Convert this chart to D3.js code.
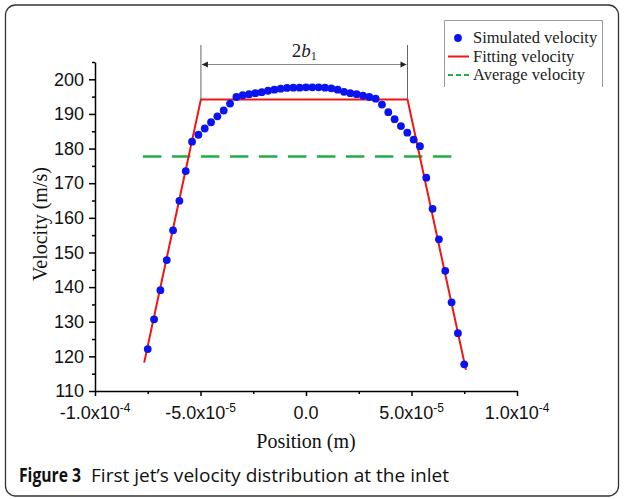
<!DOCTYPE html>
<html>
<head>
<meta charset="utf-8">
<script src="https://cdn.jsdelivr.net/npm/d3@7"></script>
<style>
  body { margin: 0; background: #fff; }
  svg { display: block; }
</style>
</head>
<body>
<div id="chart"></div>
<script>
// simulated velocity, positions in micrometres (plotted in metres)
var simPosUm = [-75, -72, -69, -66, -63, -60, -57, -54, -51, -48, -45, -42, -39, -36, -33, -30, -27,
  -24, -21, -18, -15, -12, -9, -6, -3, 0, 3, 6, 9, 12, 15, 18, 21, 24, 27, 30, 33, 36, 39, 42,
  45, 48, 51, 54, 57, 60, 63, 66, 69, 72, 75];
var simVel = [122.1, 130.7, 139.1, 147.8, 156.4, 164.9, 173.5, 182.0, 184.0, 185.8, 187.6, 189.3,
  191.0, 193.0, 194.9, 195.4, 195.7, 196.0, 196.3, 196.7, 197.0, 197.3, 197.5, 197.6, 197.6, 197.7,
  197.7, 197.7, 197.6, 197.4, 197.0, 196.4, 196.0, 195.7, 195.3, 194.9, 194.4, 192.7, 190.5, 188.5,
  186.5, 184.6, 182.6, 180.7, 171.6, 162.6, 153.8, 144.7, 135.6, 126.7, 117.7];

// fitting velocity (trapezoid)
var fitPosUm = [-76.7, -49.8, 48.1, 75.8];
var fitVel = [118.2, 194.2, 194.2, 116.1];

// average velocity
var avgPosUm = [-77.3, 69.6];
var avgVel = 177.7;

var xMajor = [-1e-4, -5e-5, 0, 5e-5, 1e-4];
var xMajorLabels = [["-1.0x10", "-4"], ["-5.0x10", "-5"], ["0.0", ""], ["5.0x10", "-5"], ["1.0x10", "-4"]];
var xMinor = [-7.5e-5, -2.5e-5, 2.5e-5, 7.5e-5];
var yMajor = [110, 120, 130, 140, 150, 160, 170, 180, 190, 200];
var yMinor = [115, 125, 135, 145, 155, 165, 175, 185, 195, 205];

var legendLabels = ["Simulated velocity", "Fitting velocity", "Average velocity"];

var W = 624, H = 499;
var BLUE = "#0a14f0", RED = "#f01414", GREEN = "#22ad4a";
var SANS = "'Liberation Sans', Arial, sans-serif";
var SERIF = "'Liberation Serif', 'Times New Roman', serif";

var svg = d3.select("#chart").append("svg").attr("width", W).attr("height", H);

// outer frame
svg.append("rect")
  .attr("x", 5.5).attr("y", 5).attr("width", 613).attr("height", 491)
  .attr("rx", 10).attr("ry", 10)
  .attr("fill", "none").attr("stroke", "#333").attr("stroke-width", 1.3);

var x = d3.scaleLinear().domain([-1e-4, 1e-4]).range([95, 517]);
var y = d3.scaleLinear().domain([110, 205]).range([391, 62]);
var um = function (v) { return v * 1e-6; };

// x axis
var xAxis = svg.append("g").attr("transform", "translate(0," + y(110) + ")");
xAxis.call(d3.axisBottom(x).tickValues(xMajor).tickSize(5).tickSizeOuter(0).tickFormat(""));
xAxis.append("g").call(d3.axisBottom(x).tickValues(xMinor).tickSize(3).tickFormat(""))
  .select(".domain").remove();
xAxis.selectAll("path, line").attr("stroke", "#000").attr("stroke-width", 1.5);

xAxis.selectAll(".xlab").data(xMajor).enter().append("text")
  .attr("class", "xlab")
  .attr("x", function (d) { return x(d); })
  .attr("y", 28)
  .attr("text-anchor", "middle")
  .attr("font-family", SANS).attr("font-size", 18).attr("fill", "#111")
  .each(function (d, i) {
    var t = d3.select(this);
    t.append("tspan").text(xMajorLabels[i][0]);
    if (xMajorLabels[i][1]) {
      t.append("tspan").attr("dy", -7).attr("font-size", 12).text(xMajorLabels[i][1]);
    }
  });

// y axis
var yAxis = svg.append("g").attr("transform", "translate(" + x(-1e-4) + ",0)");
yAxis.call(d3.axisLeft(y).tickValues(yMajor).tickSize(6).tickSizeOuter(0).tickPadding(5));
yAxis.append("g").call(d3.axisLeft(y).tickValues(yMinor).tickSize(3).tickFormat(""))
  .select(".domain").remove();
yAxis.selectAll("path, line").attr("stroke", "#000").attr("stroke-width", 1.5);
yAxis.selectAll("text").attr("font-family", SANS).attr("font-size", 18).attr("fill", "#111");

// axis titles
svg.append("text")
  .attr("x", 306).attr("y", 448)
  .attr("text-anchor", "middle")
  .attr("font-family", SERIF).attr("font-size", 20).attr("fill", "#111")
  .text("Position (m)");
svg.append("text")
  .attr("transform", "translate(47,224) rotate(-90)")
  .attr("text-anchor", "middle")
  .attr("font-family", SERIF).attr("font-size", 20).attr("fill", "#111")
  .text("Velocity (m/s)");

// average velocity (dashed green)
svg.append("line")
  .attr("x1", x(um(avgPosUm[0]))).attr("x2", x(um(avgPosUm[1])))
  .attr("y1", y(avgVel)).attr("y2", y(avgVel))
  .attr("stroke", GREEN).attr("stroke-width", 2.5)
  .attr("stroke-dasharray", "18.5,10.5");

// fitting velocity
var line = d3.line()
  .x(function (d) { return x(um(d[0])); })
  .y(function (d) { return y(d[1]); });
svg.append("path")
  .datum(d3.zip(fitPosUm, fitVel))
  .attr("d", line)
  .attr("fill", "none").attr("stroke", RED).attr("stroke-width", 2);

// 2b1 annotation
var annTop = 45, annArrowY = 64.5;
var xl = x(um(fitPosUm[1])), xr = x(um(fitPosUm[2]));
var ann = svg.append("g").attr("stroke", "#666").attr("stroke-width", 1);
ann.append("line").attr("x1", xl).attr("x2", xl).attr("y1", annTop).attr("y2", y(fitVel[1]));
ann.append("line").attr("x1", xr).attr("x2", xr).attr("y1", annTop).attr("y2", y(fitVel[2]));
ann.append("line").attr("x1", xl + 1).attr("x2", xr - 1).attr("y1", annArrowY).attr("y2", annArrowY)
  .attr("stroke", "#888");
svg.append("path")
  .attr("d", "M" + (xl + 1) + "," + annArrowY + "l6,-3v6z M" + (xr - 1) + "," + annArrowY + "l-6,-3v6z")
  .attr("fill", "#222");
var lab = svg.append("text")
  .attr("x", (xl + xr) / 2).attr("y", 57)
  .attr("text-anchor", "middle")
  .attr("font-family", SERIF).attr("font-size", 19).attr("fill", "#222");
lab.append("tspan").text("2");
lab.append("tspan").attr("font-style", "italic").text("b");
lab.append("tspan").attr("font-size", 12).attr("dy", 3).text("1");

// simulated velocity dots
svg.append("g").selectAll("circle")
  .data(d3.zip(simPosUm, simVel))
  .enter().append("circle")
  .attr("cx", function (d) { return x(um(d[0])); })
  .attr("cy", function (d) { return y(d[1]); })
  .attr("r", 3.9)
  .attr("fill", BLUE);

// legend
var lg = svg.append("g");
lg.append("path")
  .attr("d", "M444.5,87V20.5H602.5V87")
  .attr("fill", "none").attr("stroke", "#999").attr("stroke-width", 1);
var rowsY = [38, 56.5, 75];
lg.append("circle").attr("cx", 458).attr("cy", rowsY[0]).attr("r", 3.9).attr("fill", BLUE);
lg.append("line").attr("x1", 448).attr("x2", 469).attr("y1", rowsY[1]).attr("y2", rowsY[1])
  .attr("stroke", RED).attr("stroke-width", 2);
lg.append("line").attr("x1", 448).attr("x2", 470).attr("y1", rowsY[2]).attr("y2", rowsY[2])
  .attr("stroke", GREEN).attr("stroke-width", 2).attr("stroke-dasharray", "5,3");
lg.selectAll("text").data(legendLabels).enter().append("text")
  .attr("x", 473).attr("y", function (d, i) { return rowsY[i] + 5; })
  .attr("font-family", SERIF).attr("font-size", 16.5).attr("fill", "#222")
  .text(function (d) { return d; });

// caption (condensed face approximated by fitting the text to its width)
svg.append("text")
  .attr("x", 19).attr("y", 482)
  .attr("font-family", "'Open Sans', sans-serif").attr("font-size", 19)
  .attr("font-weight", "bold").attr("fill", "#111")
  .attr("textLength", 62).attr("lengthAdjust", "spacingAndGlyphs")
  .text("Figure 3");
svg.append("text")
  .attr("x", 91).attr("y", 482)
  .attr("font-family", "'Open Sans', sans-serif").attr("font-size", 19).attr("fill", "#111")
  .attr("textLength", 358).attr("lengthAdjust", "spacingAndGlyphs")
  .text("First jet\u2019s velocity distribution at the inlet");
</script>
</body>
</html>
